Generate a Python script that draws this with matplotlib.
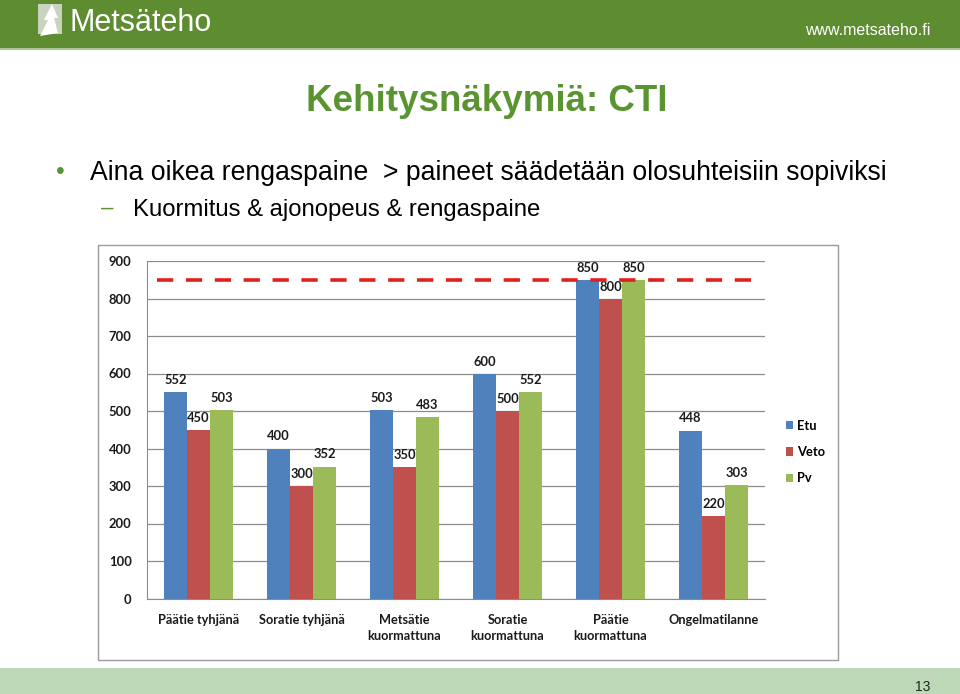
import numpy as np
import matplotlib.pyplot as plt
from matplotlib.patches import Rectangle, Polygon

W, H = 960, 694

categories = ["Päätie tyhjänä", "Soratie tyhjänä", "Metsätie\nkuormattuna",
              "Soratie\nkuormattuna", "Päätie\nkuormattuna", "Ongelmatilanne"]
etu = [552, 400, 503, 600, 850, 448]
veto = [450, 300, 350, 500, 800, 220]
pv = [503, 352, 483, 552, 850, 303]
series_names = ["Etu", "Veto", "Pv"]
limit = 850
yticks = [0, 100, 200, 300, 400, 500, 600, 700, 800, 900]

colors = ["#4f81bd", "#c0504d", "#9bbb59"]
green = "#5e8c31"
title_green = "#5a9431"


def fx(px):
    return px / W


def fy(py):
    return 1 - py / H


fig = plt.figure(figsize=(9.6, 6.94), dpi=100)

# header band
fig.patches.append(Rectangle((0, fy(48)), 1, 48 / H, transform=fig.transFigure,
                             facecolor=green, edgecolor="none"))
fig.patches.append(Rectangle((0, fy(50)), 1, 2 / H, transform=fig.transFigure,
                             facecolor="#a9c98e", edgecolor="none"))
# logo icon
fig.patches.append(Rectangle((fx(38), fy(34)), 24 / W, 30 / H, transform=fig.transFigure,
                             facecolor="#c9d3c0", edgecolor="none"))
fig.patches.append(Polygon([(fx(40), fy(36)), (fx(48), fy(20)), (fx(44), fy(20)),
                            (fx(52), fy(4)), (fx(58), fy(18)), (fx(54), fy(18)), (fx(58), fy(33))],
                           closed=True, transform=fig.transFigure, facecolor="white", edgecolor="none"))
fig.text(fx(70), fy(31), "Metsäteho", color="white", fontsize=22, family="Liberation Sans",
         va="baseline", ha="left")
fig.text(fx(930), fy(35), "www.metsateho.fi", color="white", fontsize=11.5,
         family="Liberation Sans", va="baseline", ha="right")

# footer band
fig.patches.append(Rectangle((0, 0), 1, 26 / H, transform=fig.transFigure,
                             facecolor="#bdd8b6", edgecolor="none"))
fig.text(fx(930), fy(691), "13", fontsize=10, family="Liberation Sans", ha="right", va="baseline",
         color="#222222")

# title and bullets
fig.text(fx(487), fy(111), "Kehitysnäkymiä: CTI", color=title_green, fontsize=26.5,
         fontweight="bold", family="Liberation Sans", ha="center", va="baseline")
fig.text(fx(60), fy(172), "•", color=title_green, fontsize=18, family="Liberation Sans",
         ha="center", va="center")
fig.text(fx(90), fy(180), "Aina oikea rengaspaine  > paineet säädetään olosuhteisiin sopiviksi",
         fontsize=19.2, family="Liberation Sans", ha="left", va="baseline")
fig.text(fx(107), fy(208), "–", color=title_green, fontsize=16, family="Liberation Sans",
         ha="center", va="center")
fig.text(fx(133), fy(216), "Kuormitus & ajonopeus & rengaspaine",
         fontsize=17.2, family="Liberation Sans", ha="left", va="baseline")

# chart frame
fig.patches.append(Rectangle((fx(98), fy(660)), 740 / W, 415 / H, transform=fig.transFigure,
                             facecolor="white", edgecolor="#9a9a9a", linewidth=1, zorder=0))

ax = fig.add_axes([fx(147), fy(598.5), (765 - 147) / W, (598.5 - 261) / H])
ax.set_zorder(2)
ax.patch.set_alpha(0)
x = np.arange(len(categories))
w = 0.223
for k, (vals, name) in enumerate(zip([etu, veto, pv], series_names)):
    bars = ax.bar(x + (k - 1) * w, vals, width=w, color=colors[k], label=name, zorder=3)
    for b, v in zip(bars, vals):
        ax.text(b.get_x() + b.get_width() / 2, v + 16, str(v), ha="center", va="bottom",
                fontsize=9.3, fontweight="bold", family="Lato", color="#1a1a1a", zorder=4)

ax.plot([-0.40, 5.42], [limit, limit], color="#e0201b", linewidth=2.6,
        dashes=(4.5, 3.5), zorder=5)

ax.set_xlim(-0.5, 5.5)
ax.set_ylim(0, 900)
ax.set_yticks(yticks)
ax.set_yticklabels([str(t) for t in yticks], fontsize=9.4, fontweight="bold", family="Lato",
                   color="#1a1a1a")
ax.set_xticks(x)
ax.set_xticklabels(categories, fontsize=9.2, fontweight="bold", family="Lato", color="#1a1a1a",
                   linespacing=1.4)
ax.tick_params(axis="y", length=0, pad=11)
ax.tick_params(axis="x", length=0, pad=11)
ax.grid(axis="y", color="#8c8c8c", linewidth=0.9, zorder=0)
for s in ["top", "right"]:
    ax.spines[s].set_visible(False)
ax.spines["left"].set_color("#8c8c8c")
ax.spines["bottom"].set_color("#8c8c8c")

ax.legend(loc="center left", bbox_to_anchor=(fx(774), fy(452)), bbox_transform=fig.transFigure,
          frameon=False, handlelength=0.6, handleheight=0.6, handletextpad=0.3,
          labelspacing=1.1, prop={"family": "Lato", "weight": "bold", "size": 9.3})

fig.savefig("out.png", dpi=100)
